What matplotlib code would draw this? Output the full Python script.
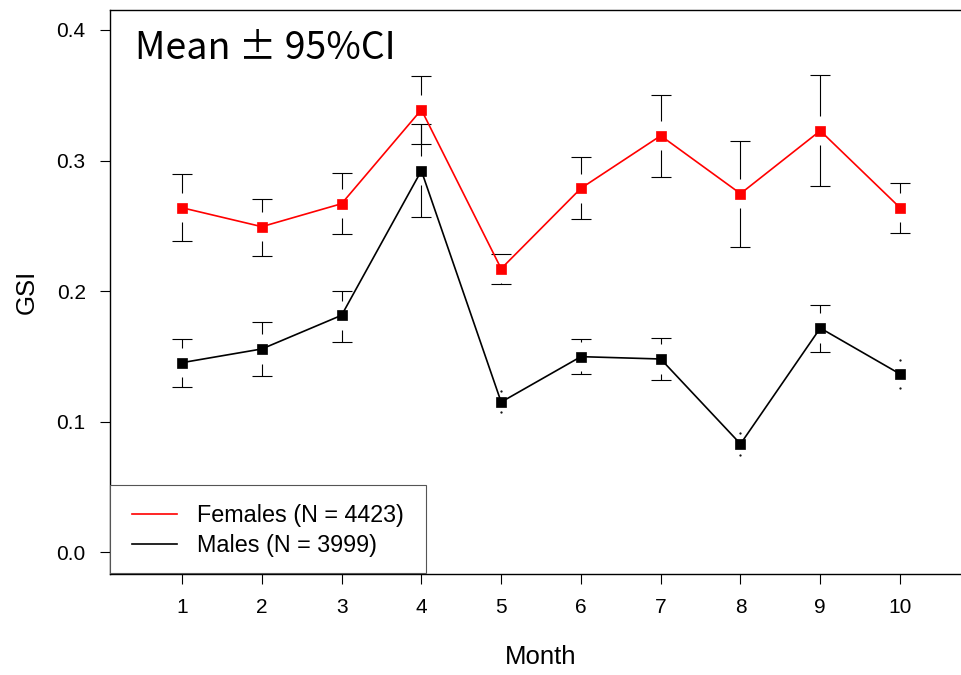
import matplotlib.pyplot as plt
from matplotlib.patches import Rectangle
import numpy as np

plt.rcParams['font.family'] = ['Liberation Sans', 'DejaVu Sans']

# monthly GSI means and 95% CI limits
months = np.arange(1, 11)
female_mean = np.array([0.2638, 0.2493, 0.2669, 0.3389, 0.2171, 0.2787, 0.3190, 0.2746, 0.3228, 0.2638])
female_upper = np.array([0.2897, 0.2707, 0.2902, 0.3648, 0.2286, 0.3027, 0.3502, 0.3149, 0.3655, 0.2830])
female_lower = np.array([0.2385, 0.2270, 0.2437, 0.3124, 0.2056, 0.2552, 0.2874, 0.2337, 0.2807, 0.2442])

male_mean = np.array([0.1451, 0.1556, 0.1814, 0.2922, 0.1149, 0.1497, 0.1479, 0.0828, 0.1716, 0.1364])
male_upper = np.array([0.1632, 0.1760, 0.2002, 0.3282, 0.1236, 0.1632, 0.1638, 0.0910, 0.1895, 0.1474])
male_lower = np.array([0.1262, 0.1351, 0.1609, 0.2569, 0.1071, 0.1362, 0.1320, 0.0741, 0.1535, 0.1259])

labels = ['Females (N = 4423)', 'Males (N = 3999)']
colors = ['red', 'black']
yticks = [0.0, 0.1, 0.2, 0.3, 0.4]

fig = plt.figure(figsize=(9.61, 6.75), dpi=100)
ax = fig.add_axes([0.1145, 0.1496, 0.8968, 0.8356])

gap = 0.0112  # gap between point and CI bar (like plotCI)


def ci_bars(x, m, lo, hi):
    big = (hi - m) > gap
    ax.vlines(x[big], (m + gap)[big], hi[big], color='black', lw=0.8, zorder=2)
    ax.vlines(x[big], lo[big], (m - gap)[big], color='black', lw=0.8, zorder=2)
    ax.plot(x[big], hi[big], ls='none', marker='_', ms=14.4, mew=0.8, color='black', zorder=2)
    ax.plot(x[big], lo[big], ls='none', marker='_', ms=14.4, mew=0.8, color='black', zorder=2)
    # very short intervals: only tiny remnants visible
    ax.plot(x[~big], hi[~big], ls='none', marker='.', ms=1.2, color='black', zorder=2)
    ax.plot(x[~big], lo[~big], ls='none', marker='.', ms=1.2, color='black', zorder=2)


ci_bars(months, female_mean, female_lower, female_upper)
ci_bars(months, male_mean, male_lower, male_upper)

for m, c, lab in [(female_mean, colors[0], labels[0]), (male_mean, colors[1], labels[1])]:
    ax.plot(months, m, color=c, lw=1.2, label=lab, zorder=3)
    ax.plot(months, m, ls='none', marker='s', ms=6.8, mew=0.5, color=c, zorder=4)

ax.set_xlim(0.0975, 10.9)
ax.set_ylim(-0.01686, 0.41533)
ax.set_xticks(months)
ax.set_yticks(yticks)
ax.set_yticklabels(['%.1f' % v for v in yticks])
ax.tick_params(axis='both', length=7.5, width=0.8, labelsize=15, pad=10, color='black')

for s in ax.spines.values():
    s.set_linewidth(1.0)

ax.set_xlabel('Month', fontsize=18.5, labelpad=20)
ax.set_ylabel('GSI', fontsize=18.5, labelpad=13)

ax.text(0.029, 0.913, 'Mean ± 95%CI', transform=ax.transAxes, fontsize=27,
        family=['Noto Sans CJK JP', 'DejaVu Sans'],
        va='baseline', ha='left')

# legend box in the lower-left corner
ax.add_patch(Rectangle((0, 0.0025), 0.3665, 0.156, transform=ax.transAxes,
                       facecolor='white', edgecolor='#555555', lw=0.8,
                       zorder=5, clip_on=False))
leg = ax.legend(loc='lower left', bbox_to_anchor=(0.0252, 0.0296), borderaxespad=0,
                borderpad=0, frameon=False, fontsize=16.8, handlelength=1.95,
                handletextpad=0.85, labelspacing=0.30)
leg.set_zorder(6)

fig.savefig('out.png', dpi=100)
